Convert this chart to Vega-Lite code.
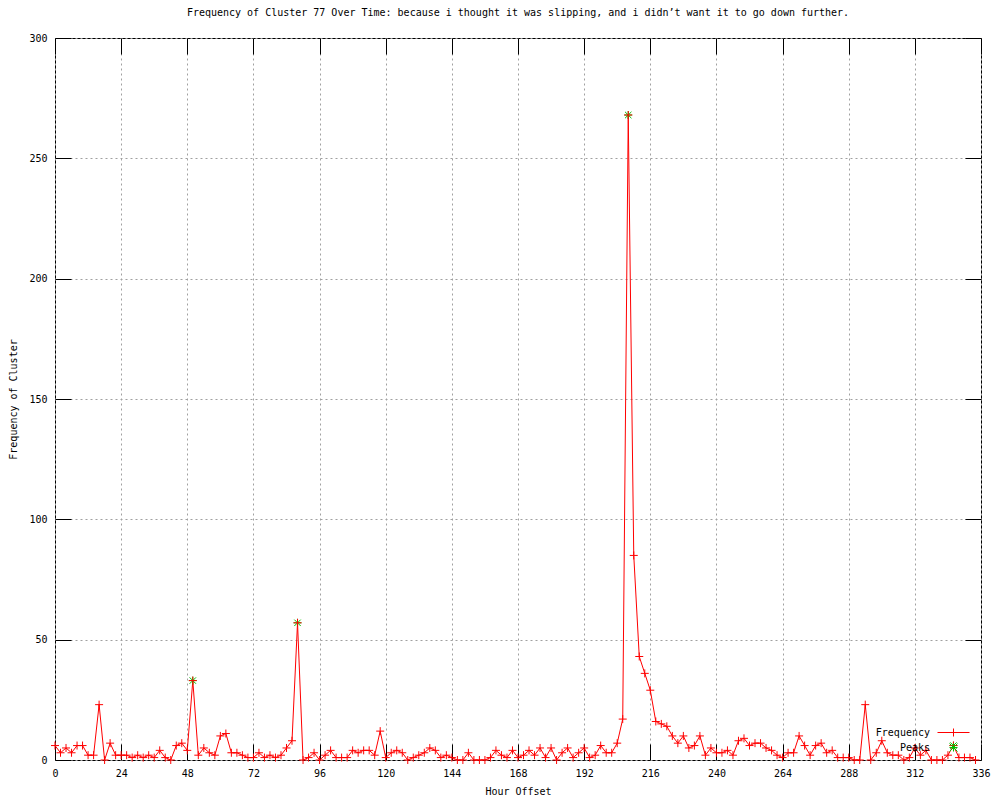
{
  "$schema": "https://vega.github.io/schema/vega-lite/v6.json",
  "autosize": {"type": "none"},
  "padding": {"left": 55, "top": 38, "right": 19, "bottom": 40},
  "width": 926,
  "height": 722,
  "background": "white",
  "title": {"text": "Frequency of Cluster 77 Over Time: because i thought it was slipping, and i didn’t want it to go down further.", "font": "DejaVu Sans Mono", "fontSize": 10, "fontWeight": "normal", "color": "black", "offset": 15, "anchor": "middle"},
  "config": {
    "view": {"stroke": "black", "strokeWidth": 1},
    "axis": {"labelFont": "DejaVu Sans Mono", "labelFontSize": 10, "labelColor": "black", "titleFont": "DejaVu Sans Mono", "titleFontSize": 10, "titleFontWeight": "normal", "titleColor": "black", "tickColor": "black", "tickWidth": 1, "domain": false, "gridColor": "#a0a0a0", "gridDash": [2, 3], "gridWidth": 1, "tickSize": -16, "labelPadding": 24, "labelFlush": false, "labelOverlap": false}
  },
  "datasets": {
    "freq": [
      {"hour": 0, "frequency": 6, "series": "Frequency"}, {"hour": 2, "frequency": 3, "series": "Frequency"}, {"hour": 4, "frequency": 5, "series": "Frequency"}, {"hour": 6, "frequency": 3, "series": "Frequency"}, {"hour": 8, "frequency": 6, "series": "Frequency"}, {"hour": 10, "frequency": 6, "series": "Frequency"}, {"hour": 12, "frequency": 2, "series": "Frequency"}, {"hour": 14, "frequency": 2, "series": "Frequency"}, {"hour": 16, "frequency": 23, "series": "Frequency"}, {"hour": 18, "frequency": 0, "series": "Frequency"},
      {"hour": 20, "frequency": 7, "series": "Frequency"}, {"hour": 22, "frequency": 2, "series": "Frequency"}, {"hour": 24, "frequency": 2, "series": "Frequency"}, {"hour": 26, "frequency": 2, "series": "Frequency"}, {"hour": 28, "frequency": 1, "series": "Frequency"}, {"hour": 30, "frequency": 2, "series": "Frequency"}, {"hour": 32, "frequency": 1, "series": "Frequency"}, {"hour": 34, "frequency": 2, "series": "Frequency"}, {"hour": 36, "frequency": 1, "series": "Frequency"}, {"hour": 38, "frequency": 4, "series": "Frequency"},
      {"hour": 40, "frequency": 1, "series": "Frequency"}, {"hour": 42, "frequency": 0, "series": "Frequency"}, {"hour": 44, "frequency": 6, "series": "Frequency"}, {"hour": 46, "frequency": 7, "series": "Frequency"}, {"hour": 48, "frequency": 4, "series": "Frequency"}, {"hour": 50, "frequency": 33, "series": "Frequency"}, {"hour": 52, "frequency": 2, "series": "Frequency"}, {"hour": 54, "frequency": 5, "series": "Frequency"}, {"hour": 56, "frequency": 3, "series": "Frequency"}, {"hour": 58, "frequency": 2, "series": "Frequency"},
      {"hour": 60, "frequency": 10, "series": "Frequency"}, {"hour": 62, "frequency": 11, "series": "Frequency"}, {"hour": 64, "frequency": 3, "series": "Frequency"}, {"hour": 66, "frequency": 3, "series": "Frequency"}, {"hour": 68, "frequency": 2, "series": "Frequency"}, {"hour": 70, "frequency": 1, "series": "Frequency"}, {"hour": 72, "frequency": 1, "series": "Frequency"}, {"hour": 74, "frequency": 3, "series": "Frequency"}, {"hour": 76, "frequency": 1, "series": "Frequency"}, {"hour": 78, "frequency": 2, "series": "Frequency"},
      {"hour": 80, "frequency": 1, "series": "Frequency"}, {"hour": 82, "frequency": 2, "series": "Frequency"}, {"hour": 84, "frequency": 5, "series": "Frequency"}, {"hour": 86, "frequency": 8, "series": "Frequency"}, {"hour": 88, "frequency": 57, "series": "Frequency"}, {"hour": 90, "frequency": 0, "series": "Frequency"}, {"hour": 92, "frequency": 1, "series": "Frequency"}, {"hour": 94, "frequency": 3, "series": "Frequency"}, {"hour": 96, "frequency": 0, "series": "Frequency"}, {"hour": 98, "frequency": 2, "series": "Frequency"},
      {"hour": 100, "frequency": 4, "series": "Frequency"}, {"hour": 102, "frequency": 1, "series": "Frequency"}, {"hour": 104, "frequency": 1, "series": "Frequency"}, {"hour": 106, "frequency": 1, "series": "Frequency"}, {"hour": 108, "frequency": 4, "series": "Frequency"}, {"hour": 110, "frequency": 3, "series": "Frequency"}, {"hour": 112, "frequency": 4, "series": "Frequency"}, {"hour": 114, "frequency": 4, "series": "Frequency"}, {"hour": 116, "frequency": 2, "series": "Frequency"}, {"hour": 118, "frequency": 12, "series": "Frequency"},
      {"hour": 120, "frequency": 1, "series": "Frequency"}, {"hour": 122, "frequency": 3, "series": "Frequency"}, {"hour": 124, "frequency": 4, "series": "Frequency"}, {"hour": 126, "frequency": 3, "series": "Frequency"}, {"hour": 128, "frequency": 0, "series": "Frequency"}, {"hour": 130, "frequency": 1, "series": "Frequency"}, {"hour": 132, "frequency": 2, "series": "Frequency"}, {"hour": 134, "frequency": 3, "series": "Frequency"}, {"hour": 136, "frequency": 5, "series": "Frequency"}, {"hour": 138, "frequency": 4, "series": "Frequency"},
      {"hour": 140, "frequency": 1, "series": "Frequency"}, {"hour": 142, "frequency": 2, "series": "Frequency"}, {"hour": 144, "frequency": 1, "series": "Frequency"}, {"hour": 146, "frequency": 0, "series": "Frequency"}, {"hour": 148, "frequency": 0, "series": "Frequency"}, {"hour": 150, "frequency": 3, "series": "Frequency"}, {"hour": 152, "frequency": 0, "series": "Frequency"}, {"hour": 154, "frequency": 0, "series": "Frequency"}, {"hour": 156, "frequency": 0, "series": "Frequency"}, {"hour": 158, "frequency": 1, "series": "Frequency"},
      {"hour": 160, "frequency": 4, "series": "Frequency"}, {"hour": 162, "frequency": 2, "series": "Frequency"}, {"hour": 164, "frequency": 1, "series": "Frequency"}, {"hour": 166, "frequency": 4, "series": "Frequency"}, {"hour": 168, "frequency": 1, "series": "Frequency"}, {"hour": 170, "frequency": 2, "series": "Frequency"}, {"hour": 172, "frequency": 4, "series": "Frequency"}, {"hour": 174, "frequency": 2, "series": "Frequency"}, {"hour": 176, "frequency": 5, "series": "Frequency"}, {"hour": 178, "frequency": 1, "series": "Frequency"},
      {"hour": 180, "frequency": 5, "series": "Frequency"}, {"hour": 182, "frequency": 0, "series": "Frequency"}, {"hour": 184, "frequency": 3, "series": "Frequency"}, {"hour": 186, "frequency": 5, "series": "Frequency"}, {"hour": 188, "frequency": 1, "series": "Frequency"}, {"hour": 190, "frequency": 3, "series": "Frequency"}, {"hour": 192, "frequency": 5, "series": "Frequency"}, {"hour": 194, "frequency": 1, "series": "Frequency"}, {"hour": 196, "frequency": 2, "series": "Frequency"}, {"hour": 198, "frequency": 6, "series": "Frequency"},
      {"hour": 200, "frequency": 3, "series": "Frequency"}, {"hour": 202, "frequency": 3, "series": "Frequency"}, {"hour": 204, "frequency": 7, "series": "Frequency"}, {"hour": 206, "frequency": 17, "series": "Frequency"}, {"hour": 208, "frequency": 268, "series": "Frequency"}, {"hour": 210, "frequency": 85, "series": "Frequency"}, {"hour": 212, "frequency": 43, "series": "Frequency"}, {"hour": 214, "frequency": 36, "series": "Frequency"}, {"hour": 216, "frequency": 29, "series": "Frequency"}, {"hour": 218, "frequency": 16, "series": "Frequency"},
      {"hour": 220, "frequency": 15, "series": "Frequency"}, {"hour": 222, "frequency": 14, "series": "Frequency"}, {"hour": 224, "frequency": 10, "series": "Frequency"}, {"hour": 226, "frequency": 7, "series": "Frequency"}, {"hour": 228, "frequency": 10, "series": "Frequency"}, {"hour": 230, "frequency": 5, "series": "Frequency"}, {"hour": 232, "frequency": 6, "series": "Frequency"}, {"hour": 234, "frequency": 10, "series": "Frequency"}, {"hour": 236, "frequency": 2, "series": "Frequency"}, {"hour": 238, "frequency": 5, "series": "Frequency"},
      {"hour": 240, "frequency": 3, "series": "Frequency"}, {"hour": 242, "frequency": 3, "series": "Frequency"}, {"hour": 244, "frequency": 4, "series": "Frequency"}, {"hour": 246, "frequency": 2, "series": "Frequency"}, {"hour": 248, "frequency": 8, "series": "Frequency"}, {"hour": 250, "frequency": 9, "series": "Frequency"}, {"hour": 252, "frequency": 6, "series": "Frequency"}, {"hour": 254, "frequency": 7, "series": "Frequency"}, {"hour": 256, "frequency": 7, "series": "Frequency"}, {"hour": 258, "frequency": 5, "series": "Frequency"},
      {"hour": 260, "frequency": 4, "series": "Frequency"}, {"hour": 262, "frequency": 2, "series": "Frequency"}, {"hour": 264, "frequency": 1, "series": "Frequency"}, {"hour": 266, "frequency": 3, "series": "Frequency"}, {"hour": 268, "frequency": 3, "series": "Frequency"}, {"hour": 270, "frequency": 10, "series": "Frequency"}, {"hour": 272, "frequency": 6, "series": "Frequency"}, {"hour": 274, "frequency": 2, "series": "Frequency"}, {"hour": 276, "frequency": 6, "series": "Frequency"}, {"hour": 278, "frequency": 7, "series": "Frequency"},
      {"hour": 280, "frequency": 3, "series": "Frequency"}, {"hour": 282, "frequency": 4, "series": "Frequency"}, {"hour": 284, "frequency": 1, "series": "Frequency"}, {"hour": 286, "frequency": 1, "series": "Frequency"}, {"hour": 288, "frequency": 1, "series": "Frequency"}, {"hour": 290, "frequency": 0, "series": "Frequency"}, {"hour": 292, "frequency": 0, "series": "Frequency"}, {"hour": 294, "frequency": 23, "series": "Frequency"}, {"hour": 296, "frequency": 0, "series": "Frequency"}, {"hour": 298, "frequency": 3, "series": "Frequency"},
      {"hour": 300, "frequency": 8, "series": "Frequency"}, {"hour": 302, "frequency": 3, "series": "Frequency"}, {"hour": 304, "frequency": 2, "series": "Frequency"}, {"hour": 306, "frequency": 2, "series": "Frequency"}, {"hour": 308, "frequency": 0, "series": "Frequency"}, {"hour": 310, "frequency": 1, "series": "Frequency"}, {"hour": 312, "frequency": 5, "series": "Frequency"}, {"hour": 314, "frequency": 2, "series": "Frequency"}, {"hour": 316, "frequency": 4, "series": "Frequency"}, {"hour": 318, "frequency": 0, "series": "Frequency"},
      {"hour": 320, "frequency": 0, "series": "Frequency"}, {"hour": 322, "frequency": 0, "series": "Frequency"}, {"hour": 324, "frequency": 2, "series": "Frequency"}, {"hour": 326, "frequency": 6, "series": "Frequency"}, {"hour": 328, "frequency": 1, "series": "Frequency"}, {"hour": 330, "frequency": 1, "series": "Frequency"}, {"hour": 332, "frequency": 1, "series": "Frequency"}, {"hour": 334, "frequency": 0, "series": "Frequency"}
    ],
    "peaks": [
      {"hour": 50, "frequency": 33, "series": "Peaks"},
      {"hour": 88, "frequency": 57, "series": "Peaks"},
      {"hour": 208, "frequency": 268, "series": "Peaks"},
      {"hour": 326, "frequency": 6, "series": "Peaks"}
    ]
  },
  "layer": [
    {
      "data": {"name": "freq"},
      "mark": {"type": "line", "strokeWidth": 1},
      "encoding": {
        "x": {"field": "hour", "type": "quantitative", "scale": {"domain": [0, 336], "nice": false, "zero": false},
              "axis": {"values": [0, 24, 48, 72, 96, 120, 144, 168, 192, 216, 240, 264, 288, 312, 336], "title": "Hour Offset", "grid": true, "titlePadding": 8}},
        "y": {"field": "frequency", "type": "quantitative", "scale": {"domain": [0, 300], "nice": false},
              "axis": {"values": [0, 50, 100, 150, 200, 250, 300], "title": "Frequency of Cluster", "grid": true, "titlePadding": 10}},
        "color": {"field": "series", "type": "nominal",
                  "scale": {"domain": ["Frequency", "Peaks"], "range": ["#ff0000", "#00c000"]},
                  "legend": {"title": null, "orient": "none", "legendX": 893, "legendY": 689, "padding": 0,
                             "labelFont": "DejaVu Sans Mono", "labelFontSize": 10, "labelColor": "black",
                             "labelAlign": "right", "labelOffset": -29, "symbolSize": 100, "symbolStrokeWidth": 1, "rowPadding": 2,
                             "encode": {"symbols": {"update": {
                               "shape": {"signal": "datum.value === 'Frequency' ? 'M-3.2,0H3.2M0,-0.8V0.8' : 'M-0.8,0H0.8M0,-0.8V0.8M-0.8,-0.8L0.8,0.8M-0.8,0.8L0.8,-0.8'"},
                               "fill": {"value": "transparent"}}}}}}
      }
    },
    {
      "data": {"name": "peaks"},
      "mark": {"type": "point", "shape": "M-1,0H1M0,-1V1M-0.8,-0.8L0.8,0.8M-0.8,0.8L0.8,-0.8", "size": 64, "filled": false, "color": "#00c000", "strokeWidth": 1, "opacity": 1},
      "encoding": {
        "x": {"field": "hour", "type": "quantitative", "axis": null},
        "y": {"field": "frequency", "type": "quantitative", "axis": null}
      }
    },
    {
      "data": {"name": "freq"},
      "mark": {"type": "point", "shape": "M-1,0H1M0,-1V1", "size": 64, "filled": false, "color": "#ff0000", "strokeWidth": 1, "opacity": 1},
      "encoding": {
        "x": {"field": "hour", "type": "quantitative",
              "axis": {"orient": "top", "values": [0, 24, 48, 72, 96, 120, 144, 168, 192, 216, 240, 264, 288, 312, 336], "labels": false, "grid": false, "title": null}},
        "y": {"field": "frequency", "type": "quantitative",
              "axis": {"orient": "right", "values": [0, 50, 100, 150, 200, 250, 300], "labels": false, "grid": false, "title": null}}
      }
    }
  ],
  "resolve": {"axis": {"x": "independent", "y": "independent"}}
}
